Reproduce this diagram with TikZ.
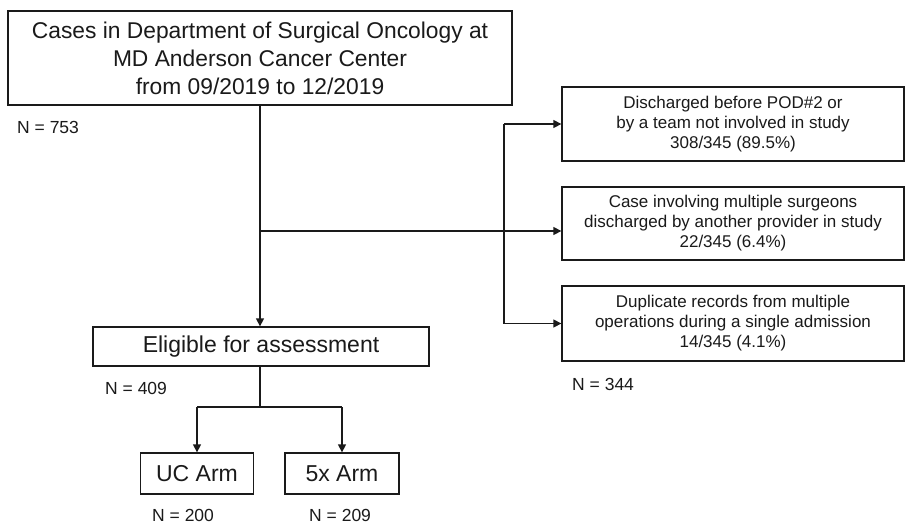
\documentclass[tikz,border=0pt]{standalone}
\usepackage{fontspec}
\setmainfont{Liberation Sans}
\usetikzlibrary{arrows.meta}
\definecolor{ink}{HTML}{1A1A1A}
\begin{document}
\begin{tikzpicture}[x=1pt,y=-1pt,
 box/.style={draw=ink, line width=1.3pt, align=center, inner sep=0pt, text=ink},
 big/.style={font=\fontsize{22.8}{28}\selectfont},
 mid/.style={font=\fontsize{23}{28}\selectfont},
 small/.style={font=\fontsize{17}{20}\selectfont},
 lbl/.style={font=\fontsize{17.5}{20}\selectfont, inner sep=0pt, anchor=west, text=ink},
 conn/.style={draw=ink, line width=1.3pt},
 arr/.style={conn, -{Triangle[length=8pt,width=8pt]}}]
\useasboundingbox[fill=white] (0,0) rectangle (907,523);
\node[box,big,minimum width=504pt,minimum height=94pt] (top) at (260,58)
  {Cases in Department of Surgical Oncology at\\MD Anderson Cancer Center\\from 09/2019 to 12/2019};
\node[lbl] (n753) at (17,127) {N = 753};
\node[box,mid,minimum width=336pt,minimum height=39pt] (elig) at (261,346.5) {Eligible for assessment};
\node[lbl] (n409) at (105,388) {N = 409};
\node[box,mid,minimum width=113pt,minimum height=41pt] (uc) at (197,473.5) {UC Arm};
\node[box,mid,minimum width=114pt,minimum height=41pt] (fx) at (342,473.5) {5x Arm};
\node[lbl] (n200) at (152,515) {N = 200};
\node[lbl] (n209) at (309,515) {N = 209};
\node[box,small,minimum width=342pt,minimum height=74pt] (b1) at (733,124)
  {Discharged before POD\#2 or\\by a team not involved in study\\308/345 (89.5\%)};
\node[box,small,minimum width=342pt,minimum height=73pt] (b2) at (733,223.5)
  {Case involving multiple surgeons\\discharged by another provider in study\\22/345 (6.4\%)};
\node[box,small,minimum width=342pt,minimum height=75pt] (b3) at (733,323.5)
  {Duplicate records from multiple\\operations during a single admission\\14/345 (4.1\%)};
\node[lbl] (n344) at (572,384) {N = 344};
% connectors
\coordinate (h) at (260,231);
\coordinate (bt) at (504,124);
\coordinate (bb) at (504,323.5);
\coordinate (br) at (260,407);
\draw[arr] (top.south) -- (top.south |- elig.north);
\draw[arr] (h) -- (h -| b2.west);
\draw[conn] (bt) -- (bb);
\draw[arr] (bt) -- (b1.west);
\draw[arr] (bb) -- (b3.west);
\draw[conn] (br |- elig.south) -- (br);
\draw[conn] (uc.north |- br) -- (fx.north |- br);
\draw[arr] (uc.north |- br) -- (uc.north);
\draw[arr] (fx.north |- br) -- (fx.north);
\end{tikzpicture}
\end{document}
